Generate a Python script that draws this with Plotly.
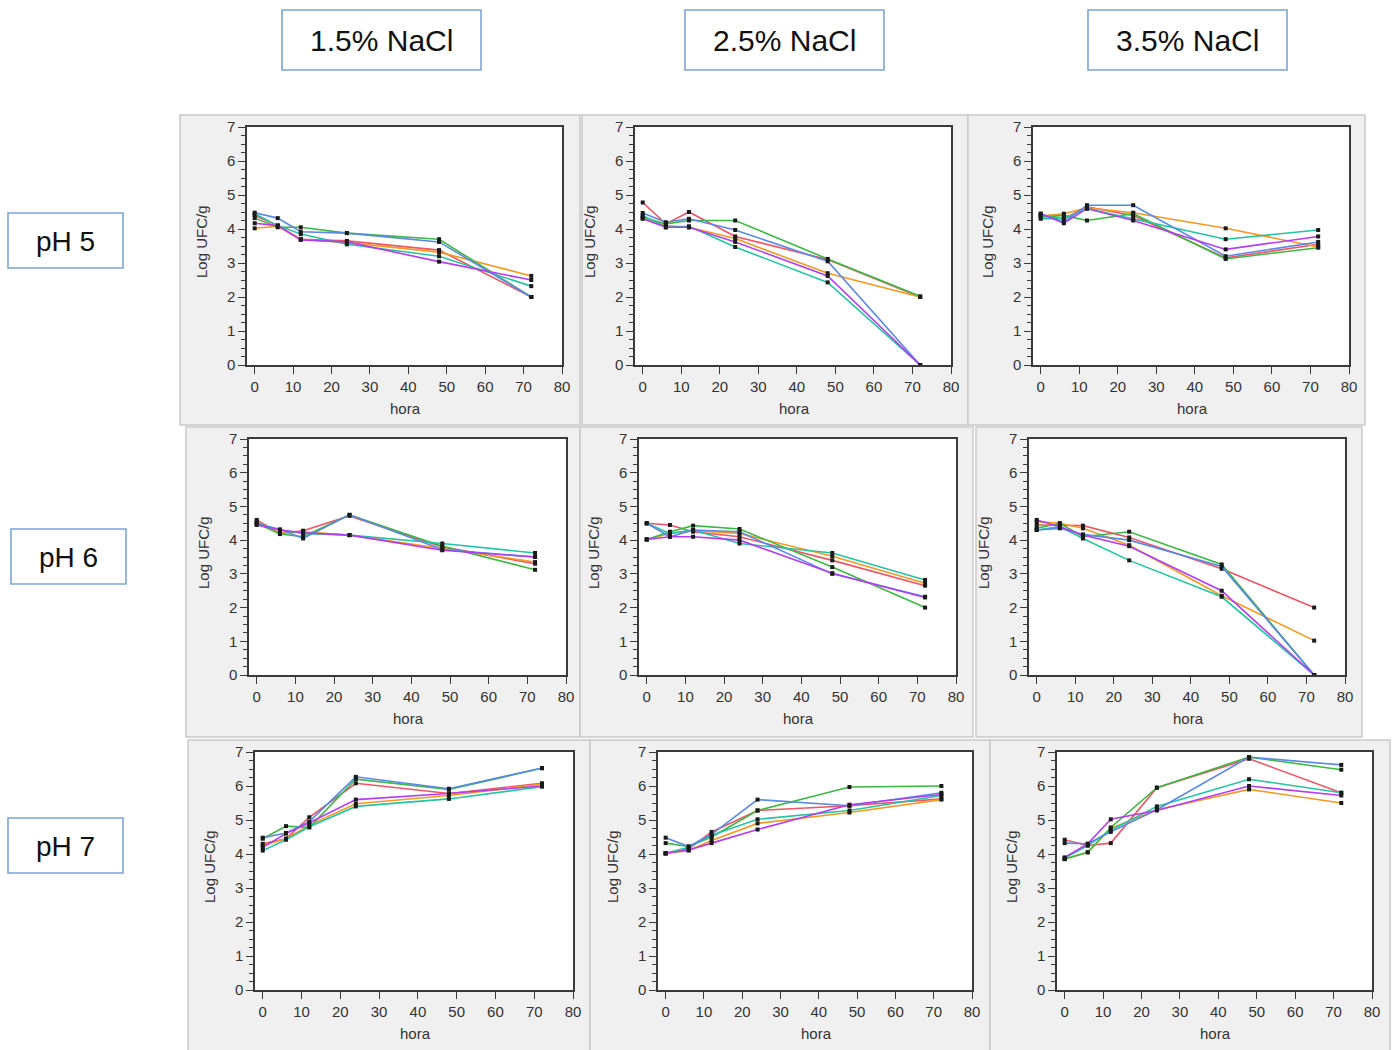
import plotly.graph_objects as go

# Sampling times (hours)
TIME = [0, 6, 12, 24, 48, 72]

# Six replicate series per condition, in the order: red, orange, green, teal, blue, purple
PH5_NACL15 = [
    [4.40, 4.10, 3.70, 3.65, 3.38, 2.00],
    [4.02, 4.08, 3.70, 3.60, 3.32, 2.62],
    [4.32, 4.05, 4.05, 3.88, 3.70, 2.00],
    [4.45, 4.10, 3.85, 3.55, 3.20, 2.32],
    [4.48, 4.32, 3.92, 3.88, 3.62, 2.00],
    [4.17, 4.10, 3.68, 3.62, 3.04, 2.50],
]
PH5_NACL25 = [
    [4.78, 4.15, 4.50, 3.78, 3.10, 2.00],
    [4.32, 4.10, 4.05, 3.72, 2.70, 2.00],
    [4.35, 4.15, 4.25, 4.25, 3.12, 2.02],
    [4.40, 4.05, 4.08, 3.47, 2.43, 0.00],
    [4.47, 4.20, 4.30, 3.97, 3.05, 0.00],
    [4.30, 4.05, 4.05, 3.62, 2.62, 0.00],
]
PH5_NACL35 = [
    [4.40, 4.30, 4.65, 4.40, 3.15, 3.55],
    [4.38, 4.45, 4.62, 4.48, 4.02, 3.47],
    [4.35, 4.40, 4.25, 4.45, 3.12, 3.45],
    [4.30, 4.30, 4.60, 4.30, 3.70, 3.97],
    [4.45, 4.20, 4.70, 4.70, 3.20, 3.62],
    [4.45, 4.17, 4.60, 4.25, 3.40, 3.78],
]
PH6_NACL15 = [
    [4.60, 4.20, 4.28, 4.72, 3.80, 3.30],
    [4.55, 4.20, 4.25, 4.15, 3.75, 3.35],
    [4.50, 4.18, 4.10, 4.75, 3.82, 3.12],
    [4.50, 4.30, 4.20, 4.15, 3.90, 3.62],
    [4.48, 4.32, 4.05, 4.75, 3.72, 3.50],
    [4.45, 4.30, 4.22, 4.15, 3.70, 3.50],
]
PH6_NACL25 = [
    [4.50, 4.45, 4.25, 4.10, 3.40, 2.65],
    [4.02, 4.20, 4.28, 4.20, 3.52, 2.72],
    [4.02, 4.25, 4.43, 4.33, 3.20, 2.00],
    [4.50, 4.20, 4.30, 3.90, 3.62, 2.82],
    [4.50, 4.10, 4.30, 4.25, 3.00, 2.32],
    [4.02, 4.10, 4.10, 4.00, 3.02, 2.30],
]
PH6_NACL35 = [
    [4.45, 4.45, 4.43, 4.08, 3.15, 2.00],
    [4.55, 4.50, 4.35, 3.85, 2.35, 1.02],
    [4.35, 4.50, 4.10, 4.25, 3.28, 0.00],
    [4.30, 4.40, 4.05, 3.40, 2.32, 0.00],
    [4.30, 4.35, 4.17, 4.00, 3.22, 0.00],
    [4.60, 4.40, 4.15, 3.82, 2.50, 0.00],
]
PH7_NACL15 = [
    [4.30, 4.45, 5.08, 6.08, 5.78, 6.08],
    [4.25, 4.45, 4.85, 5.48, 5.72, 6.05],
    [4.45, 4.82, 4.78, 6.20, 5.90, 6.52],
    [4.10, 4.42, 4.80, 5.40, 5.62, 5.98],
    [4.48, 4.62, 4.95, 6.27, 5.92, 6.53],
    [4.20, 4.60, 4.92, 5.60, 5.78, 6.00],
]
PH7_NACL25 = [
    [4.02, 4.15, 4.65, 5.28, 5.42, 5.62],
    [4.02, 4.10, 4.40, 4.90, 5.22, 5.60],
    [4.32, 4.22, 4.50, 5.28, 5.97, 6.00],
    [4.02, 4.20, 4.55, 5.02, 5.28, 5.72],
    [4.48, 4.22, 4.58, 5.60, 5.42, 5.80],
    [4.02, 4.12, 4.32, 4.72, 5.45, 5.75],
]
PH7_NACL35 = [
    [4.42, 4.25, 4.32, 5.95, 6.80, 5.80],
    [3.85, 4.05, 4.75, 5.30, 5.90, 5.50],
    [3.85, 4.05, 4.78, 5.95, 6.85, 6.48],
    [3.88, 4.25, 4.70, 5.40, 6.20, 5.80],
    [4.32, 4.30, 4.65, 5.30, 6.85, 6.62],
    [3.90, 4.30, 5.02, 5.28, 6.00, 5.72],
]

COL_LABELS = ["1.5% NaCl", "2.5% NaCl", "3.5% NaCl"]
ROW_LABELS = ["pH 5", "pH 6", "pH 7"]
X_TITLE = "hora"
Y_TITLE = "Log UFC/g"

PANELS = [
    [PH5_NACL15, PH5_NACL25, PH5_NACL35],
    [PH6_NACL15, PH6_NACL25, PH6_NACL35],
    [PH7_NACL15, PH7_NACL25, PH7_NACL35],
]

LINE_COLORS = ["#ee5566", "#f39a22", "#3db844", "#26c4a2", "#5a88e6", "#b23ef0"]

W, H = 1400, 1050
FONT = "Arial, Liberation Sans, sans-serif"

# Pixel geometry of each plotting frame: (left, right, top, bottom)
ROW_Y = [(127, 365), (439, 675), (752, 990)]
COL_X = [
    [(247, 562), (635, 951), (1033, 1349)],
    [(249, 566), (639, 956), (1029, 1345)],
    [(255, 573), (658, 972), (1057, 1372)],
]
# Grey panel cards around each frame: (x0, x1, y0, y1)
CARDS = [
    [(180, 580, 115, 425), (582, 968, 115, 425), (968, 1365, 115, 425)],
    [(186, 580, 427, 737), (580, 973, 427, 737), (976, 1362, 427, 737)],
    [(188, 590, 740, 1052), (590, 990, 740, 1052), (990, 1390, 740, 1052)],
]
COL_BOX = [(282, 481), (685, 884), (1088, 1287)]
ROW_BOX = [(8, 123, 213, 268), (11, 126, 529, 584), (8, 123, 818, 873)]


def px(x):
    return x / W


def py(y):
    return 1 - y / H


fig = go.Figure()
shapes = []
annotations = []
layout_axes = {}

k = 0
for r in range(3):
    for c in range(3):
        k += 1
        xa = "x" if k == 1 else f"x{k}"
        ya = "y" if k == 1 else f"y{k}"
        left, right = COL_X[r][c]
        top, bottom = ROW_Y[r]
        cx0, cx1, cy0, cy1 = CARDS[r][c]

        shapes.append(dict(type="rect", xref="paper", yref="paper", layer="below",
                           x0=px(cx0), x1=px(cx1), y0=py(cy1), y1=py(cy0),
                           fillcolor="#f0f0f0", line=dict(color="#c9c9c9", width=1.5)))
        shapes.append(dict(type="rect", xref="paper", yref="paper", layer="below",
                           x0=px(left), x1=px(right), y0=py(bottom), y1=py(top),
                           fillcolor="#ffffff", line=dict(width=0)))

        for i, series in enumerate(PANELS[r][c]):
            fig.add_trace(go.Scatter(
                x=TIME, y=series, xaxis=xa, yaxis=ya, mode="lines+markers",
                line=dict(color=LINE_COLORS[i], width=1.6),
                marker=dict(symbol="square", size=4, color="#1a1a1a", line=dict(width=0)),
                showlegend=False, cliponaxis=False,
            ))

        axis_common = dict(showline=True, linecolor="#3a3a3a", linewidth=1.5, mirror=True,
                           showgrid=False, zeroline=False, ticks="outside", ticklen=7,
                           tickwidth=1.2, tickcolor="#3a3a3a", automargin=False,
                           tickfont=dict(family=FONT, size=15, color="#333333"))
        layout_axes["xaxis" if k == 1 else f"xaxis{k}"] = dict(
            axis_common, domain=[px(left), px(right)], anchor=ya,
            range=[-2, 80], tickmode="array", tickvals=list(range(0, 81, 10)),
        )
        layout_axes["yaxis" if k == 1 else f"yaxis{k}"] = dict(
            axis_common, domain=[py(bottom), py(top)], anchor=xa,
            range=[0, 7], tickmode="array", tickvals=list(range(0, 8)),
            minor=dict(ticks="outside", ticklen=4, tickcolor="#3a3a3a", dtick=0.25,
                       tick0=0, showgrid=False),
        )

        annotations.append(dict(text=X_TITLE, xref="paper", yref="paper",
                                x=px((left + right) / 2 + 1), y=py(bottom + 43),
                                showarrow=False, xanchor="center", yanchor="middle",
                                font=dict(family=FONT, size=15, color="#333333")))
        annotations.append(dict(text=Y_TITLE, xref="paper", yref="paper",
                                x=px(left - 46), y=py((top + bottom) / 2 - 4),
                                showarrow=False, textangle=-90,
                                xanchor="center", yanchor="middle",
                                font=dict(family=FONT, size=15, color="#333333")))

# Column headers
for (x0, x1), label in zip(COL_BOX, COL_LABELS):
    shapes.append(dict(type="rect", xref="paper", yref="paper",
                       x0=px(x0), x1=px(x1), y0=py(70), y1=py(10),
                       fillcolor="#ffffff", line=dict(color="#7fa3d3", width=1.6)))
    annotations.append(dict(text=label, xref="paper", yref="paper",
                            x=px((x0 + x1) / 2), y=py(41), showarrow=False,
                            xanchor="center", yanchor="middle",
                            font=dict(family=FONT, size=30, color="#111111")))

# Row headers
for (x0, x1, y0, y1), label in zip(ROW_BOX, ROW_LABELS):
    shapes.append(dict(type="rect", xref="paper", yref="paper",
                       x0=px(x0), x1=px(x1), y0=py(y1), y1=py(y0),
                       fillcolor="#ffffff", line=dict(color="#7fa3d3", width=1.6)))
    annotations.append(dict(text=label, xref="paper", yref="paper",
                            x=px((x0 + x1) / 2), y=py((y0 + y1) / 2 + 1), showarrow=False,
                            xanchor="center", yanchor="middle",
                            font=dict(family=FONT, size=28, color="#111111")))

fig.update_layout(
    width=W, height=H, margin=dict(l=0, r=0, t=0, b=0, autoexpand=False),
    paper_bgcolor="#ffffff", plot_bgcolor="rgba(0,0,0,0)",
    shapes=shapes, annotations=annotations, showlegend=False,
    **layout_axes,
)

fig.write_html("out.html")
